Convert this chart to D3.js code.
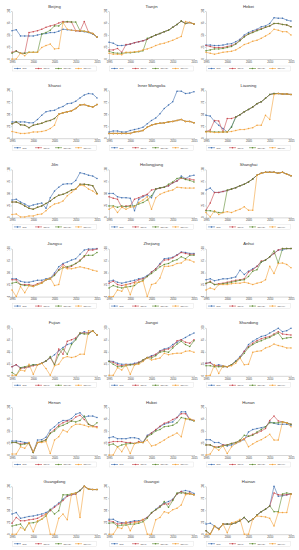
<html>
<head>
<meta charset="utf-8">
<script src="https://cdn.jsdelivr.net/npm/d3@7"></script>
<style>
  body { margin: 0; background: #fff; }
  text { font-family: "Liberation Sans", Arial, sans-serif; }
  .axis path, .axis line { stroke: #9a9a9a; stroke-width: 0.4; }
  .axis text { font-size: 2.8px; fill: #444; }
</style>
</head>
<body>
<script>

var provinces = ['Beijing','Tianjin','Hebei','Shanxi','Inner Mongolia','Liaoning','Jilin','Heilongjiang','Shanghai',
  'Jiangsu','Zhejiang','Anhui','Fujian','Jiangxi','Shandong','Henan','Hubei','Hunan','Guangdong','Guangxi','Hainan'];
var years = [1995,1996,1997,1998,1999,2000,2001,2002,2003,2004,2005,2006,2007,2008,2009,2010,2011,2012,2013,2014,2015];
var xTicks = [1995,2000,2005,2010,2015];
var yTicks = [0,25,50,75,100];
var seriesNames = ['scd','ispy6','ispy(8)','ispy(9)'];

// one row per province, one value per year
var scd = [
  [59,61,48,48,48,48,50,52,53,55,55,58,62,61,60,59,58,57,55,52,46],
  [35,33,28,28,29,31,34,36,38,41,46,50,53,57,60,66,72,79,74,76,73],
  [29,29,28,28,29,31,32,36,41,50,55,59,62,67,69,74,86,85,85,81,79],
  [34,34,34,34,32,32,39,48,55,57,58,63,66,72,73,77,84,90,93,92,84],
  [13,15,15,13,13,16,18,20,23,30,37,42,51,62,69,76,98,98,93,94,97],
  [48,46,35,27,20,13,24,44,49,55,60,65,72,76,83,91,93,93,92,92,91],
  [36,38,32,28,23,26,28,30,19,41,55,63,69,70,70,77,93,91,88,86,81],
  [50,50,43,41,41,40,14,38,43,47,41,59,61,63,66,72,76,86,81,86,88],
  [57,61,52,52,54,56,59,62,66,69,74,80,88,92,94,94,94,92,94,90,87],
  [37,37,32,30,30,32,34,34,37,39,49,62,69,72,76,79,88,97,99,99,100],
  [32,34,30,28,30,32,34,37,39,44,51,58,69,79,80,82,87,93,92,90,90],
  [35,37,33,35,37,37,39,41,55,46,53,58,63,72,76,83,90,97,97,100,100],
  [19,23,17,17,19,23,23,26,31,37,44,52,59,65,68,77,87,92,89,94,85],
  [31,30,26,24,24,24,26,28,31,37,42,44,52,56,58,65,70,75,80,85,89],
  [26,28,21,23,21,19,23,31,40,51,65,72,77,82,84,89,94,99,92,94,99],
  [29,29,28,26,26,5,31,32,37,52,59,67,72,72,76,85,88,79,81,81,78],
  [36,38,34,34,34,36,36,34,26,41,46,52,59,64,67,69,78,90,90,74,72],
  [32,32,26,26,21,19,21,24,28,32,48,53,55,57,59,69,66,64,64,64,62],
  [42,45,33,35,37,38,40,42,45,51,58,65,73,80,82,84,91,100,94,93,93],
  [31,31,26,24,24,26,28,28,30,35,44,52,59,65,68,73,84,89,91,89,85],
  [21,23,17,12,21,21,21,24,28,35,26,31,40,47,52,59,100,79,80,82,84]
];
var ispy6 = [
  [14,17,12,12,55,57,59,62,66,69,71,75,78,77,77,59,58,78,56,53,46],
  [19,19,22,14,30,31,34,36,38,41,46,50,53,57,60,66,72,79,74,76,73],
  [28,26,24,24,24,26,28,32,39,47,52,56,60,63,66,69,74,74,72,71,67],
  [30,34,28,27,22,27,29,31,35,37,41,50,53,55,57,62,69,70,67,65,70],
  [10,10,10,10,10,10,13,14,16,23,27,30,31,32,34,35,37,39,35,35,32],
  [14,17,37,36,13,41,41,44,49,55,60,65,72,76,83,91,93,93,92,92,91],
  [32,32,29,24,19,17,21,24,29,34,41,46,48,52,57,59,69,69,68,66,50],
  [43,40,38,21,24,24,38,41,45,48,57,59,61,63,66,72,76,82,80,80,78],
  [15,30,52,52,54,56,59,62,66,69,74,80,88,92,94,94,94,92,94,90,87],
  [35,35,25,25,25,23,27,30,35,37,46,56,67,60,63,69,76,83,97,97,99],
  [28,32,25,23,25,27,30,35,37,42,51,58,67,76,77,81,86,92,90,88,88],
  [27,32,25,27,28,30,32,34,35,37,51,56,63,74,76,83,90,97,100,100,100],
  [19,23,15,17,19,21,23,26,31,38,23,56,45,72,75,79,89,89,89,94,85],
  [30,28,23,21,23,23,24,28,33,38,40,45,51,54,56,61,73,75,70,68,75],
  [26,27,21,21,19,19,23,30,38,51,61,68,73,77,80,82,87,92,87,86,85],
  [26,26,23,24,24,5,26,28,32,46,53,62,67,71,71,79,83,74,64,60,59],
  [26,28,28,28,26,26,24,28,26,39,46,53,60,66,69,74,78,86,86,74,72],
  [21,21,17,17,21,21,24,26,30,34,39,43,46,50,55,72,81,71,69,67,64],
  [23,35,28,28,30,31,33,38,42,49,56,63,70,79,82,84,91,100,94,93,93],
  [28,26,21,23,23,24,26,26,30,35,44,51,58,63,63,72,84,89,84,86,82],
  [7,0,17,10,21,21,21,24,28,35,26,31,40,47,52,59,86,82,82,82,84]
];
var ispy8 = [
  [12,16,12,12,14,14,14,52,55,60,69,69,76,78,77,77,59,58,56,53,46],
  [16,13,12,12,13,13,14,15,17,43,46,50,53,57,60,66,72,79,74,76,73],
  [17,19,21,21,22,24,26,31,38,46,52,55,59,62,66,69,74,74,72,71,67],
  [30,34,28,27,22,27,29,31,35,37,41,50,53,55,57,62,69,70,67,65,70],
  [10,10,10,10,10,10,13,14,16,23,27,30,31,32,34,35,37,39,35,35,32],
  [14,14,13,13,13,13,23,44,49,55,60,65,72,76,83,91,93,93,92,92,91],
  [32,32,29,24,19,17,21,24,29,34,41,46,48,52,57,59,69,69,68,66,50],
  [24,24,21,24,22,24,24,28,31,36,45,59,62,63,69,74,81,83,79,77,74],
  [14,14,12,10,10,57,59,62,66,69,74,80,88,92,94,94,94,92,94,90,87],
  [28,30,25,23,23,21,25,28,35,37,44,55,60,62,65,69,74,85,86,86,92],
  [18,23,20,18,20,21,23,30,34,42,48,55,62,67,69,74,77,83,79,86,86],
  [28,30,25,25,27,28,30,32,34,35,42,53,56,72,76,83,95,70,100,100,100],
  [7,1,17,19,21,23,23,26,31,40,23,44,56,45,65,75,89,87,87,94,85],
  [30,24,19,19,21,23,23,26,33,38,37,42,49,51,49,58,66,72,65,61,73],
  [21,21,19,19,19,19,23,30,37,47,59,65,70,73,77,80,85,89,77,79,80],
  [26,26,21,23,24,5,26,28,31,45,50,59,62,66,71,69,72,81,64,60,67],
  [21,23,17,21,23,24,24,26,26,38,43,50,53,59,60,62,67,78,76,74,71],
  [21,21,16,16,19,21,24,26,31,41,39,41,48,53,59,67,67,67,69,67,64],
  [17,19,21,9,23,24,26,31,38,52,42,49,82,82,84,86,91,100,94,93,93],
  [23,24,17,19,19,21,21,23,26,33,45,51,56,68,56,70,86,86,86,84,82],
  [7,0,17,10,21,21,21,24,28,35,26,31,40,47,52,59,47,47,84,86,84]
];
var ispy9 = [
  [0,0,12,7,14,14,14,24,28,31,21,22,76,62,60,59,59,58,56,53,46],
  [12,10,10,9,14,14,15,16,19,21,24,28,31,33,36,39,43,47,78,76,73],
  [14,12,10,12,14,15,16,19,24,30,33,37,39,43,48,53,62,60,57,57,50],
  [14,12,10,10,11,13,13,14,16,20,27,50,53,55,57,62,69,70,67,65,70],
  [10,10,10,10,10,10,13,14,16,23,27,30,31,32,34,35,37,39,35,35,32],
  [13,13,12,12,13,13,14,16,18,18,20,22,27,27,48,39,91,93,92,92,91],
  [6,7,1,1,3,3,6,7,14,22,28,30,34,45,52,59,67,66,59,55,48],
  [17,22,10,21,17,21,22,31,36,43,17,41,48,52,55,57,63,62,61,61,61],
  [10,1,14,6,10,12,10,14,17,22,15,15,88,92,94,94,94,92,94,90,87],
  [14,0,21,8,23,21,25,28,35,39,23,25,62,58,58,60,62,60,58,55,53],
  [0,0,14,11,25,4,28,30,32,0,25,28,39,63,63,65,69,70,77,76,72],
  [14,18,15,25,25,25,27,28,28,30,28,25,28,30,35,63,48,69,70,67,60],
  [1,1,12,10,24,3,23,26,15,1,21,24,37,40,38,40,45,45,94,93,85],
  [1,1,17,12,23,3,23,24,30,37,33,35,37,47,44,46,47,47,51,52,49],
  [0,1,23,5,21,19,21,26,37,23,24,49,51,52,58,61,66,63,61,58,58],
  [2,2,17,14,26,7,26,26,28,3,31,38,52,48,59,64,64,62,59,59,57],
  [0,0,17,7,21,3,24,26,26,31,19,21,26,31,37,41,46,38,74,76,72],
  [0,2,16,10,19,3,17,24,28,34,17,23,28,32,37,43,31,31,69,67,59],
  [0,0,14,9,24,5,28,31,42,0,0,33,42,30,84,86,35,100,94,93,93],
  [0,0,14,12,26,7,24,26,31,0,0,30,35,47,44,51,54,61,82,84,82],
  [0,0,17,10,21,3,24,26,31,0,0,31,38,37,36,33,17,45,45,45,84]
];

var allSeries = [scd, ispy6, ispy8, ispy9];
var colors = ['#3f6fb0', '#c8464c', '#5e8c31', '#f3a33c'];

var svg = d3.select('body').append('svg')
    .attr('width', 299)
    .attr('height', 550);

var pw = 85;   // plot width
var legendOffsets = [2, 23, 43, 63];

provinces.forEach(function(name, p) {
  var col = p % 3, row = Math.floor(p / 3);
  var left = 12 + col * 97;
  var top = 6 + row * 79.2;

  var x = d3.scaleLinear().domain([1995, 2015]).range([left, left + pw]);
  var y = d3.scaleLinear().domain([0, 100]).range([top + 53, top + 5]);

  var g = svg.append('g');

  g.append('text')
    .attr('x', left + pw / 2)
    .attr('y', top + 1.5)
    .attr('text-anchor', 'middle')
    .attr('font-size', 4.2)
    .attr('fill', '#333')
    .text(name);

  g.append('g')
    .attr('class', 'axis')
    .attr('transform', 'translate(0,' + (top + 53) + ')')
    .call(d3.axisBottom(x).tickValues(xTicks).tickFormat(d3.format('d')).tickSize(1).tickSizeOuter(0).tickPadding(0.8));

  var ya = g.append('g')
    .attr('class', 'axis')
    .attr('transform', 'translate(' + left + ',0)')
    .call(d3.axisLeft(y).tickValues(yTicks).tickFormat('').tickSize(1).tickSizeOuter(0));

  g.selectAll('.ylab')
    .data(yTicks)
    .enter()
    .append('text')
    .attr('font-size', 2.6)
    .attr('fill', '#444')
    .attr('text-anchor', 'middle')
    .attr('transform', function(d) { return 'translate(' + (left - 2) + ',' + y(d) + ') rotate(-90)'; })
    .text(function(d) { return d; });

  var line = d3.line()
    .x(function(d, i) { return x(years[i]); })
    .y(function(d) { return y(d); });

  allSeries.forEach(function(s, k) {
    var vals = s[p];
    g.append('path')
      .datum(vals)
      .attr('d', line)
      .attr('fill', 'none')
      .attr('stroke', colors[k])
      .attr('stroke-width', 0.6);
    g.selectAll('.m' + k)
      .data(vals)
      .enter()
      .append('circle')
      .attr('cx', function(d, i) { return x(years[i]); })
      .attr('cy', function(d) { return y(d); })
      .attr('r', 0.75)
      .attr('fill', colors[k]);
  });

  // legend
  var ly = top + 62.5;
  g.append('rect')
    .attr('x', left + 0.5)
    .attr('y', ly - 2.5)
    .attr('width', pw - 1)
    .attr('height', 5)
    .attr('fill', 'none')
    .attr('stroke', '#d0d0d0')
    .attr('stroke-width', 0.3);

  seriesNames.forEach(function(nm, k) {
    var lx = left + legendOffsets[k];
    g.append('line')
      .attr('x1', lx).attr('x2', lx + 7)
      .attr('y1', ly).attr('y2', ly)
      .attr('stroke', colors[k]).attr('stroke-width', 0.6);
    g.append('circle')
      .attr('cx', lx + 3.5).attr('cy', ly).attr('r', 0.75)
      .attr('fill', colors[k]);
    g.append('text')
      .attr('x', lx + 8.5)
      .attr('y', ly + 0.9)
      .attr('font-size', 2.5)
      .attr('fill', '#444')
      .text(nm);
  });
});

</script>
</body>
</html>
